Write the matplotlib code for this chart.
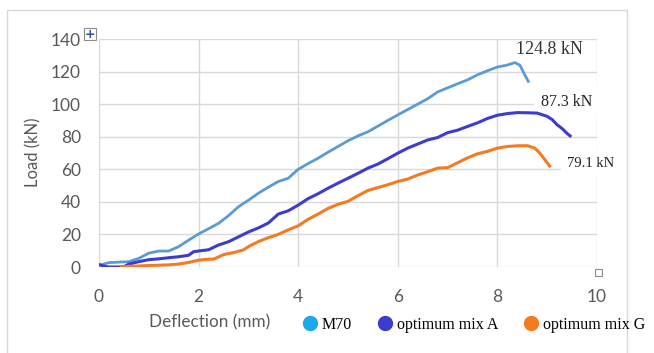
import matplotlib
matplotlib.use("Agg")
import matplotlib.pyplot as plt
from matplotlib.lines import Line2D
from matplotlib.patches import Rectangle

# ---- data ----
m70_x = [0.0, 0.2, 0.4, 0.6, 0.8, 1.0, 1.2, 1.4, 1.6, 1.8, 2.0, 2.2, 2.4, 2.6, 2.8,
         3.0, 3.2, 3.4, 3.6, 3.8, 4.0, 4.2, 4.4, 4.6, 4.8, 5.0, 5.2, 5.4, 5.6, 5.8,
         6.0, 6.2, 6.4, 6.6, 6.8, 7.0, 7.2, 7.4, 7.6, 7.8, 8.0, 8.2, 8.35, 8.45, 8.55, 8.62]
m70_y = [1.0, 2.7, 3.0, 3.3, 5.3, 8.5, 9.8, 9.8, 12.5, 16.5, 20.3, 23.5, 26.8, 31.5, 37.0,
         41.0, 45.3, 49.0, 52.5, 54.5, 60.0, 63.5, 66.8, 70.5, 74.0, 77.5, 80.5, 83.0, 86.5, 90.0,
         93.4, 96.7, 100.0, 103.3, 107.5, 110.0, 112.5, 114.9, 118.0, 120.5, 122.8, 124.0, 125.5, 124.0, 118.0, 114.0]

mixA_x = [0.0, 0.1, 0.2, 0.4, 0.5, 0.6, 0.8, 1.0, 1.2, 1.4, 1.6, 1.8, 1.9, 2.0, 2.2, 2.4,
          2.6, 2.8, 3.0, 3.2, 3.4, 3.6, 3.8, 4.0, 4.2, 4.4, 4.6, 4.8, 5.0, 5.2, 5.4, 5.6,
          5.8, 6.0, 6.2, 6.4, 6.6, 6.8, 7.0, 7.2, 7.4, 7.6, 7.8, 8.0, 8.2, 8.4, 8.6, 8.8,
          9.0, 9.1, 9.2, 9.3, 9.4, 9.46]
mixA_y = [1.5, 0.5, 0.0, 0.0, 0.2, 1.8, 3.3, 4.5, 5.0, 5.7, 6.3, 7.2, 9.4, 9.8, 10.6, 13.5,
          15.5, 18.5, 21.5, 24.0, 27.0, 32.5, 34.5, 38.0, 42.0, 45.0, 48.4, 51.5, 54.5, 57.5, 60.7, 63.2,
          66.5, 69.9, 73.0, 75.5, 78.0, 79.5, 82.5, 84.0, 86.3, 88.5, 91.2, 93.2, 94.2, 94.8, 94.7, 94.5,
          92.5, 90.5, 87.3, 85.0, 82.0, 80.5]

mixG_x = [0.45, 0.6, 0.8, 1.0, 1.2, 1.4, 1.6, 1.8, 2.0, 2.2, 2.3, 2.5, 2.7, 2.9, 3.0, 3.2,
          3.4, 3.6, 3.8, 4.0, 4.2, 4.4, 4.6, 4.8, 5.0, 5.2, 5.4, 5.6, 5.8, 6.0, 6.2, 6.4,
          6.6, 6.8, 7.0, 7.2, 7.4, 7.6, 7.8, 8.0, 8.2, 8.4, 8.6, 8.75, 8.85, 8.95, 9.05]
mixG_y = [0.0, 0.4, 0.6, 0.9, 1.1, 1.3, 1.8, 2.8, 4.2, 4.8, 4.8, 7.6, 8.8, 10.5, 12.5, 15.6,
          18.0, 20.0, 22.8, 25.3, 29.3, 32.5, 36.0, 38.5, 40.3, 43.8, 47.0, 48.8, 50.5, 52.5, 54.0, 56.5,
          58.5, 60.7, 61.0, 64.0, 67.0, 69.5, 71.0, 73.0, 74.0, 74.4, 74.5, 73.0, 70.0, 66.0, 62.0]

series_names = ["M70", "optimum mix A", "optimum mix G"]
peak_labels = ["124.8 kN", "87.3 kN", "79.1 kN"]
x_ticks = [0, 2, 4, 6, 8, 10]
y_ticks = [0, 20, 40, 60, 80, 100, 120, 140]

# ---- style ----
c_m70 = "#5B9BD5"
c_m70_marker = "#1AA7EC"
c_a = "#3C3CCF"
c_g = "#F47B20"
grid_c = "#D9D9D9"
txt_c = "#595959"
sans = ["Lato", "DejaVu Sans"]
serif = ["Liberation Serif", "DejaVu Serif"]

fig = plt.figure(figsize=(6.54, 3.53), dpi=100)
fig.patch.set_facecolor("white")
W, H = 654, 353
ax = fig.add_axes([99 / W, 1 - 267 / H, (597 - 99) / W, (267 - 39) / H])

ax.plot(m70_x, m70_y, color=c_m70, lw=2.0, zorder=3)
ax.plot(mixA_x, mixA_y, color=c_a, lw=2.2, zorder=3)
ax.plot(mixG_x, mixG_y, color=c_g, lw=2.2, zorder=3)

ax.set_xlim(0, 10)
ax.set_ylim(0, 140)
ax.set_xticks(x_ticks)
ax.set_yticks(y_ticks)
ax.grid(True, color=grid_c, lw=1.0, zorder=0)
ax.set_axisbelow(True)
for s in ax.spines.values():
    s.set_visible(False)
ax.tick_params(length=0, colors=txt_c, labelsize=12.5)
ax.tick_params(axis="x", pad=16)
ax.tick_params(axis="y", pad=13)
for lab in ax.get_xticklabels() + ax.get_yticklabels():
    lab.set_family(sans)

# annotations
ax.text(8.38, 133.5, peak_labels[0], family=serif, fontsize=13, color="#333333",
        va="center", ha="left", zorder=5)
ax.text(8.88, 101.5, peak_labels[1], family=serif, fontsize=11.5, color="#222222",
        va="center", ha="left", zorder=2.5,
        bbox=dict(boxstyle="square,pad=0.45", fc="white", ec="none"), clip_on=False)
ax.text(9.4, 63.5, peak_labels[2], family=serif, fontsize=10.5, color="#222222",
        va="center", ha="left", zorder=2.5,
        bbox=dict(boxstyle="square,pad=0.4", fc="white", ec="none"), clip_on=False)

# axis titles
fig.text(33 / W, 1 - 152 / H, "Load (kN)", rotation=90, ha="center", va="center",
         family=sans, fontsize=12, color=txt_c)
fig.text(210 / W, 1 - 322 / H, "Deflection (mm)", ha="center", va="center",
         family=sans, fontsize=12.3, color=txt_c)

# legend
handles = [Line2D([], [], ls="none", marker="o", ms=10, mfc=c, mec=c)
           for c in (c_m70_marker, c_a, c_g)]
leg = fig.legend(handles, series_names, loc="center left",
                 bbox_to_anchor=(305 / W, 1 - 325 / H), ncol=3, frameon=False,
                 prop=dict(family=serif, size=11.5), handlelength=0.6,
                 handletextpad=0.45, columnspacing=1.75, borderpad=0, borderaxespad=0)

# chart border and handles
fig.add_artist(Rectangle((7 / W, -0.05), (627 - 7) / W, 1 - 10 / H + 0.05,
                         transform=fig.transFigure, fill=False, ec="#D9D9D9", lw=1.0))
fig.add_artist(Rectangle((595 / W, 1 - 276 / H), 7 / W, 7 / H,
                         transform=fig.transFigure, fc="white", ec="#8C8C8C", lw=0.8, zorder=6))
fig.add_artist(Rectangle((84 / W, 1 - 40 / H), 12 / W, 12 / H,
                         transform=fig.transFigure, fc="white", ec="#8C8C8C", lw=0.8, zorder=6))
fig.text(90 / W, 1 - 34 / H, "+", ha="center", va="center", fontsize=9,
         color="#2F5597", family="DejaVu Sans", fontweight="bold", zorder=7)

fig.savefig("out.png", dpi=100)
